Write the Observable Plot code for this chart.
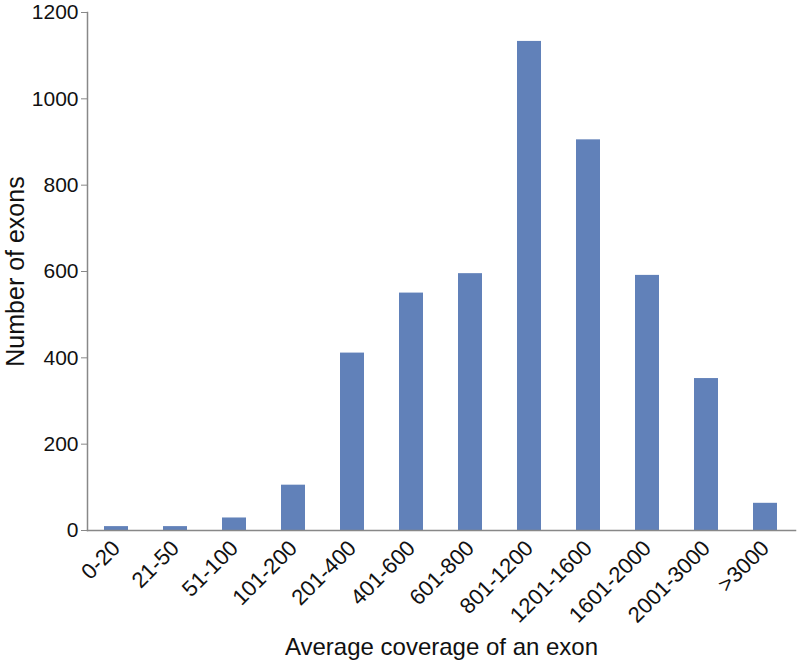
<!DOCTYPE html>
<html>
<head>
<meta charset="utf-8">
<script src="https://cdn.jsdelivr.net/npm/d3@7"></script>
<script src="https://cdn.jsdelivr.net/npm/@observablehq/plot@0.6"></script>
<style>
  html, body { margin: 0; padding: 0; background: #fff; }
  #chart svg { display: block; }
</style>
</head>
<body>
<div id="chart"></div>
<script>
const categories = ["0-20", "21-50", "51-100", "101-200", "201-400", "401-600", "601-800", "801-1200", "1201-1600", "1601-2000", "2001-3000", ">3000"];
const counts = [9, 9, 29, 105, 411, 550, 595, 1133, 905, 591, 352, 63];
const yTicks = [0, 200, 400, 600, 800, 1000, 1200];

const data = categories.map((c, i) => ({cat: c, value: counts[i]}));

const chart = Plot.plot({
  width: 797,
  height: 666,
  marginLeft: 87,
  marginRight: 2,
  marginTop: 12,
  marginBottom: 136,
  style: {fontFamily: "'Liberation Sans', Arial, sans-serif", background: "#fff", color: "#111"},
  x: {domain: categories, paddingInner: 0.59, paddingOuter: 0.295},
  y: {domain: [0, 1200]},
  marks: [
    Plot.barY(data, {x: "cat", y: "value", fill: "#6181b9"}),
    Plot.frame({anchor: "left", stroke: "#888", strokeWidth: 1.5}),
    Plot.frame({anchor: "bottom", stroke: "#888", strokeWidth: 1.5}),
    Plot.axisY({ticks: yTicks, tickFormat: d3.format("d"), tickSize: 6, tickPadding: 3, stroke: "#888", fill: "#111", fontSize: 21, label: null}),
    Plot.axisY({ticks: [], fill: "#111", fontSize: 25,
      label: "Number of exons", labelAnchor: "center", labelArrow: "none", labelOffset: 81}),
    Plot.axisX({tickSize: 0, tickRotate: -45, tickPadding: 14, fill: "#111", fontSize: 22, label: null}),
    Plot.axisX({ticks: [], fill: "#111", fontSize: 24,
      label: "Average coverage of an exon", labelAnchor: "center", labelArrow: "none", labelOffset: 124})
  ]
});
document.getElementById("chart").appendChild(chart);
</script>
</body>
</html>
